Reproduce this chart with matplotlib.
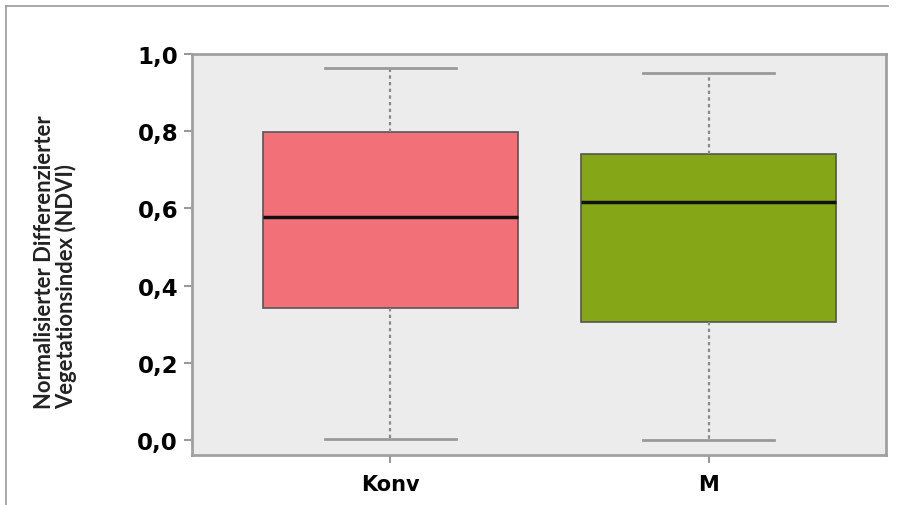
import matplotlib.pyplot as plt
from matplotlib.lines import Line2D

# NDVI summary statistics
groups = ['Konv', 'M']
whisker_low = [0.003, 0.0]
q1 = [0.341, 0.305]
median = [0.578, 0.617]
q3 = [0.797, 0.742]
whisker_high = [0.963, 0.950]
box_colors = ['#f27077', '#84a617']

y_ticks = [0.0, 0.2, 0.4, 0.6, 0.8, 1.0]
y_tick_labels = ['0,0', '0,2', '0,4', '0,6', '0,8', '1,0']


def main():
    fig = plt.figure(figsize=(9.03, 5.06), dpi=100)
    ax = fig.add_axes([0.2126, 0.0988, 0.7685, 0.7925])
    ax.set_facecolor('#ececec')

    stats = []
    for i, name in enumerate(groups):
        stats.append({'label': name, 'whislo': whisker_low[i], 'q1': q1[i],
                      'med': median[i], 'q3': q3[i], 'whishi': whisker_high[i],
                      'fliers': []})

    bp = ax.bxp(stats, positions=[1, 2], widths=0.8, patch_artist=True,
                showfliers=False,
                boxprops=dict(edgecolor='#555555', linewidth=1.2),
                medianprops=dict(color='#111111', linewidth=2.5),
                whiskerprops=dict(color='#8a8a8a', linewidth=1.6, linestyle=(0, (1.5, 1.5))),
                capprops=dict(color='#999999', linewidth=2.0),
                capwidths=0.41)
    for patch, c in zip(bp['boxes'], box_colors):
        patch.set_facecolor(c)

    ax.set_xlim(0.377, 2.557)
    ax.set_ylim(-0.039, 1.0)
    ax.set_yticks(y_ticks)
    ax.set_yticklabels(y_tick_labels)
    ax.set_xticks([1, 2])
    ax.set_xticklabels(groups)

    for sp in ax.spines.values():
        sp.set_color('#a0a0a0')
        sp.set_linewidth(2)
    ax.tick_params(axis='both', color='#999999', width=1.5, length=6)
    ax.tick_params(axis='y', labelsize=16.5, pad=4)
    ax.tick_params(axis='x', labelsize=15, pad=8)
    for lab in ax.get_yticklabels() + ax.get_xticklabels():
        lab.set_fontweight('bold')

    ax.set_ylabel('Normalisierter Differenzierter\nVegetationsindex (NDVI)',
                  family=['Lato', 'DejaVu Sans'], fontsize=15.8, fontweight='bold',
                  color='#222222', linespacing=1.0, multialignment='left')
    ax.yaxis.set_label_coords(-0.165, 0.4825)

    # thin frame lines around the figure (left and top)
    fig.add_artist(Line2D([6 / 903, 6 / 903], [0, 1 - 7 / 506], color='#999999', lw=1.2))
    fig.add_artist(Line2D([6 / 903, 888 / 903], [1 - 7 / 506, 1 - 7 / 506], color='#999999', lw=1.2))

    fig.savefig('out.png', dpi=100)


if __name__ == "__main__":
    main()
